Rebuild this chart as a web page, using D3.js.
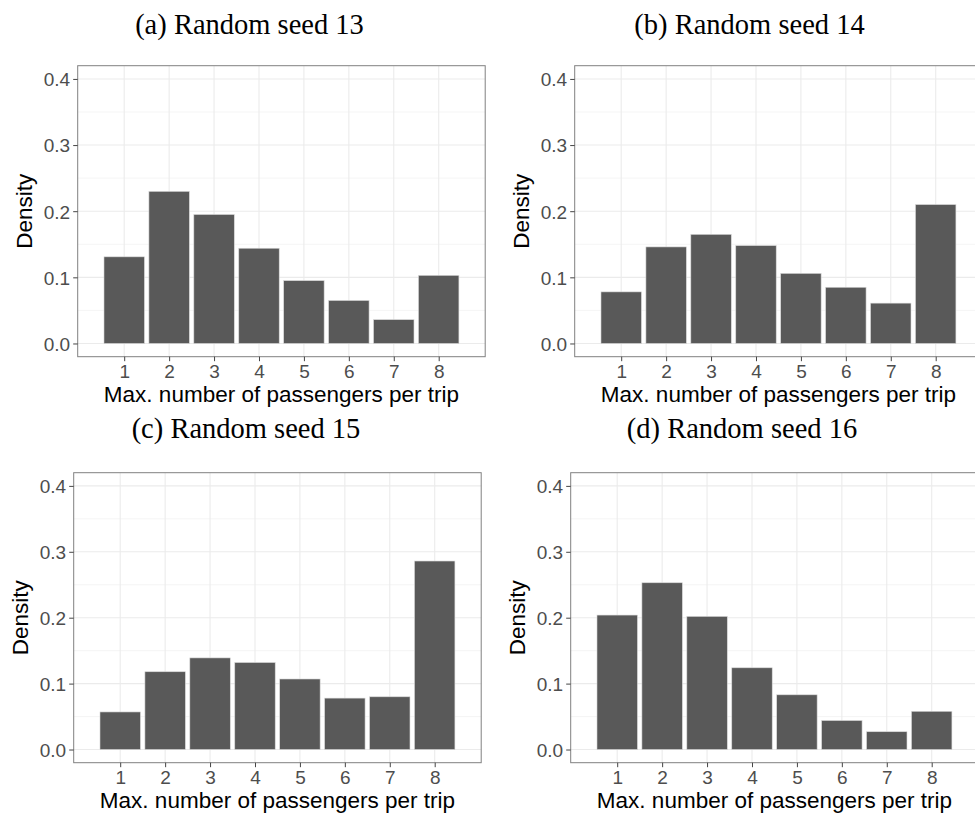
<!DOCTYPE html>
<html>
<head>
<meta charset="utf-8">
<script src="https://cdn.jsdelivr.net/npm/d3@7"></script>
<style>
  html, body { margin: 0; padding: 0; background: #fff; }
  svg { display: block; }
</style>
</head>
<body>
<svg id="fig" width="975" height="814"></svg>
<script>
// Distribution of the maximum number of passengers per trip, one panel per seed
const categories = [1, 2, 3, 4, 5, 6, 7, 8];
const yTicks = [0, 0.1, 0.2, 0.3, 0.4];
const yMinor = [0.05, 0.15, 0.25, 0.35];

const seed13 = [0.131, 0.230, 0.195, 0.144, 0.095, 0.065, 0.036, 0.103];
const seed14 = [0.078, 0.146, 0.165, 0.148, 0.106, 0.085, 0.061, 0.210];
const seed15 = [0.057, 0.118, 0.139, 0.132, 0.107, 0.078, 0.080, 0.286];
const seed16 = [0.204, 0.253, 0.202, 0.124, 0.083, 0.044, 0.027, 0.058];

const panelTitles = ["(a) Random seed 13", "(b) Random seed 14", "(c) Random seed 15", "(d) Random seed 16"];
const xTitle = "Max. number of passengers per trip";
const yTitle = "Density";

const panels = [
  { title: panelTitles[0], values: seed13, left: 77.7,  top: 65.7,  bottom: 356.7, titleX: 249.5, titleY: 34 },
  { title: panelTitles[1], values: seed14, left: 574.7, top: 65.7,  bottom: 356.7, titleX: 749.5, titleY: 34 },
  { title: panelTitles[2], values: seed15, left: 73.7,  top: 472.7, bottom: 762.7, titleX: 246,   titleY: 438.3 },
  { title: panelTitles[3], values: seed16, left: 570.7, top: 472.7, bottom: 762.7, titleX: 742,   titleY: 438.3 }
];

const panelWidth = 407.5;
const xPad = 1.035;      // space beyond first/last category, in category units
const barWidth = 0.9;

const svg = d3.select("#fig");
const sans = "'Liberation Sans', Arial, sans-serif";
const serif = "'Liberation Serif', 'Times New Roman', serif";

panels.forEach(p => {
  const right = p.left + panelWidth;
  const x = d3.scaleLinear()
    .domain([categories[0] - xPad, categories[categories.length - 1] + xPad])
    .range([p.left, right]);
  const y = d3.scaleLinear()
    .domain([-0.02, 0.42])
    .range([p.bottom, p.top]);

  const g = svg.append("g");

  // panel background grid
  g.append("g").selectAll("line.minor")
    .data(yMinor).join("line")
    .attr("x1", p.left).attr("x2", right)
    .attr("y1", d => y(d)).attr("y2", d => y(d))
    .attr("stroke", "#f3f3f3").attr("stroke-width", 0.8);
  g.append("g").selectAll("line.major")
    .data(yTicks).join("line")
    .attr("x1", p.left).attr("x2", right)
    .attr("y1", d => y(d)).attr("y2", d => y(d))
    .attr("stroke", "#ebebeb").attr("stroke-width", 1.1);
  g.append("g").selectAll("line.vmajor")
    .data(categories).join("line")
    .attr("x1", d => x(d)).attr("x2", d => x(d))
    .attr("y1", p.top).attr("y2", p.bottom)
    .attr("stroke", "#ebebeb").attr("stroke-width", 1.1);

  // bars
  g.append("g").selectAll("rect")
    .data(categories.map((c, i) => ({ c, v: p.values[i] })))
    .join("rect")
    .attr("x", d => x(d.c - barWidth / 2))
    .attr("width", d => x(d.c + barWidth / 2) - x(d.c - barWidth / 2))
    .attr("y", d => y(d.v))
    .attr("height", d => y(0) - y(d.v))
    .attr("fill", "#595959")
    .attr("stroke", "#d9d9d9")
    .attr("stroke-width", 0.6);

  // panel border
  g.append("rect")
    .attr("x", p.left).attr("y", p.top)
    .attr("width", panelWidth).attr("height", p.bottom - p.top)
    .attr("fill", "none").attr("stroke", "#808080").attr("stroke-width", 1);

  // axes
  const xAxis = g.append("g")
    .attr("transform", `translate(0,${p.bottom})`)
    .call(d3.axisBottom(x).tickValues(categories).tickSize(4.5).tickPadding(4).tickFormat(d3.format("d")));
  const yAxis = g.append("g")
    .attr("transform", `translate(${p.left},0)`)
    .call(d3.axisLeft(y).tickValues(yTicks).tickSize(4.5).tickPadding(3).tickFormat(d3.format(".1f")));

  [xAxis, yAxis].forEach(a => {
    a.select(".domain").remove();
    a.selectAll(".tick line").attr("stroke", "#444").attr("stroke-width", 1);
    a.selectAll(".tick text")
      .attr("fill", "#4d4d4d")
      .style("font-family", sans)
      .style("font-size", "19px");
  });
  xAxis.selectAll(".tick text").attr("dy", "0").attr("y", 21);
  yAxis.selectAll(".tick text").attr("dy", "0.36em");

  // axis titles
  g.append("text")
    .attr("x", (p.left + right) / 2)
    .attr("y", p.bottom + 45)
    .attr("text-anchor", "middle")
    .style("font-family", sans).style("font-size", "22.5px")
    .attr("fill", "#000")
    .text(xTitle);
  g.append("text")
    .attr("transform", `translate(${p.left - 45.6},${(p.top + p.bottom) / 2}) rotate(-90)`)
    .attr("text-anchor", "middle")
    .style("font-family", sans).style("font-size", "22.5px")
    .attr("fill", "#000")
    .text(yTitle);

  // panel caption
  svg.append("text")
    .attr("x", p.titleX).attr("y", p.titleY)
    .attr("text-anchor", "middle")
    .style("font-family", serif).style("font-size", "28.5px")
    .attr("fill", "#000")
    .text(p.title);
});
</script>
</body>
</html>
